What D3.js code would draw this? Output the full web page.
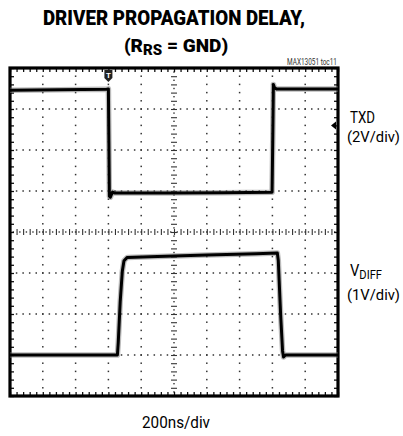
<!DOCTYPE html>
<html>
<head>
<meta charset="utf-8">
<script src="https://cdn.jsdelivr.net/npm/d3@7/dist/d3.min.js"></script>
<style>
  html, body { margin: 0; padding: 0; background: #fff; }
  svg { display: block; }
  .cond { font-family: Roboto, "Liberation Sans", sans-serif; }
</style>
</head>
<body>
<script>
// ---- data ----
const timeDivs = 10;            // horizontal divisions (200ns/div)
const voltDivs = 8;             // vertical divisions
const nsPerDiv = 200;
// TXD trace (time ns, volts) — 2V/div, zero reference at +0.95 div
const txdTime  = [0, 300, 590, 600, 603, 606, 612, 625, 640, 1000, 1300, 1598, 1602, 1606, 1612, 1625, 1800, 2000];
const txdVolts = [5.02, 5.04, 5.06, 5.08, 2.5, -0.15, -0.2, 0.05, 0.0, 0.0, 0.02, 0.04, 2.5, 5.3, 5.15, 5.08, 5.08, 5.08];
const txdScale = 2, txdZeroDiv = 0.95;
// VDIFF trace — 1V/div, zero reference at -3 div
const vdiffTime  = [0, 300, 655, 660, 672, 685, 695, 715, 900, 1200, 1500, 1630, 1636, 1650, 1662, 1668, 1680, 2000];
const vdiffVolts = [0.0, 0.0, 0.0, 0.3, 1.3, 2.05, 2.3, 2.38, 2.4, 2.44, 2.47, 2.49, 2.3, 1.0, 0.1, -0.05, 0.0, 0.0];
const vdiffScale = 1, vdiffZeroDiv = -3;
const titleLines = ["DRIVER PROPAGATION DELAY,"];
const traceLabels = [["TXD", "", "(2V/div)"], ["V", "DIFF", "(1V/div)"]];
const xLabel = "200ns/div";
const noteText = "MAX13051 toc11";

// ---- layout ----
const W = 403, H = 436;
const svg = d3.select("body").append("svg").attr("width", W).attr("height", H);

const x = d3.scaleLinear().domain([0, timeDivs * nsPerDiv]).range([10, 338]);
const y = d3.scaleLinear().domain([-voltDivs / 2, voltDivs / 2]).range([396, 68]);
const xd = d => x(d * nsPerDiv);

// dotted grid
const g = svg.append("g");
const minorX = d3.range(0, timeDivs * 5 + 1).map(i => i / 5);
const minorY = d3.range(-voltDivs * 5 / 2, voltDivs * 5 / 2 + 1).map(i => i / 5);
[-3, -2, -1, 1, 2, 3].forEach(v => {
  g.selectAll(null).data(minorX).join("rect")
    .attr("x", d => xd(d) - 0.75).attr("y", y(v) - 0.75).attr("width", 1.5).attr("height", 1.5).attr("fill", "#333");
});
[1, 2, 3, 4, 6, 7, 8, 9].forEach(v => {
  g.selectAll(null).data(minorY).join("rect")
    .attr("x", xd(v) - 0.75).attr("y", d => y(d) - 0.75).attr("width", 1.5).attr("height", 1.5).attr("fill", "#333");
});

// center axes with ticks on both sides
const cx = xd(timeDivs / 2), cy = y(0);
const tvX = minorX.map(d => d * nsPerDiv);
[3, -3].forEach(s => {
  svg.append("g").attr("transform", `translate(0,${cy})`)
    .call((s > 0 ? d3.axisBottom(x) : d3.axisTop(x)).tickValues(tvX).tickSize(Math.abs(s)).tickFormat(""))
    .call(a => a.select(".domain").remove())
    .selectAll("line").attr("stroke", "#333").attr("stroke-width", 1.1);
  svg.append("g").attr("transform", `translate(${cx},0)`)
    .call((s > 0 ? d3.axisRight(y) : d3.axisLeft(y)).tickValues(minorY).tickSize(Math.abs(s)).tickFormat(""))
    .call(a => a.select(".domain").remove())
    .selectAll("line").attr("stroke", "#333").attr("stroke-width", 1.1);
});
// center line dots
g.selectAll(null).data(minorX.map(d => d + 0.1).filter(d => d < timeDivs)).join("rect")
  .attr("x", d => xd(d) - 0.7).attr("y", cy - 0.7).attr("width", 1.4).attr("height", 1.4).attr("fill", "#333");
g.selectAll(null).data(minorY.map(d => d + 0.1).filter(d => d < voltDivs / 2)).join("rect")
  .attr("x", cx - 0.7).attr("y", d => y(d) - 0.7).attr("width", 1.4).attr("height", 1.4).attr("fill", "#333");

// border ticks (inward)
const bt = [
  [d3.axisBottom(x).tickValues(tvX), `translate(0,${y(4)})`],
  [d3.axisTop(x).tickValues(tvX), `translate(0,${y(-4)})`],
  [d3.axisRight(y).tickValues(minorY), `translate(${x(0)},0)`],
  [d3.axisLeft(y).tickValues(minorY), `translate(${x(2000)},0)`]
];
bt.forEach(([ax, tr]) => {
  svg.append("g").attr("transform", tr).call(ax.tickSize(4).tickFormat(""))
    .call(a => a.select(".domain").remove())
    .selectAll("line").attr("stroke", "#111").attr("stroke-width", 1.3);
});

// frame
svg.append("rect").attr("x", x(0)).attr("y", y(4)).attr("width", x(2000) - x(0)).attr("height", y(-4) - y(4))
  .attr("fill", "none").attr("stroke", "#000").attr("stroke-width", 3.2);

// traces
const line = (zero, scale) => d3.line().x(d => x(d[0])).y(d => y(zero + d[1] / scale));
const txd = txdTime.map((t, i) => [t, txdVolts[i]]);
const vdiff = vdiffTime.map((t, i) => [t, vdiffVolts[i]]);
[[txd, txdZeroDiv, txdScale], [vdiff, vdiffZeroDiv, vdiffScale]].forEach(([data, z, s]) => {
  svg.append("path").datum(data).attr("d", line(z, s)).attr("fill", "none")
    .attr("stroke", "#777").attr("stroke-width", 5.5).attr("stroke-opacity", 0.5).attr("stroke-linejoin", "round");
  svg.append("path").datum(data).attr("d", line(z, s)).attr("fill", "none")
    .attr("stroke", "#000").attr("stroke-width", 3).attr("stroke-linejoin", "round");
});

// trigger marker
const tx = x(600), ty = y(4) + 2;
svg.append("path").attr("d", `M${tx - 4},${ty} L${tx + 4},${ty} L${tx + 4},${ty + 8} L${tx},${ty + 12} L${tx - 4},${ty + 8} Z`)
  .attr("fill", "#222");
svg.append("text").attr("x", tx).attr("y", ty + 8).attr("text-anchor", "middle").attr("font-size", 8)
  .attr("font-family", "Liberation Sans").attr("font-weight", "bold").attr("fill", "#fff").text("T");
// TXD ground-level marker on right edge
const gy = y(2.6), gx = x(2000) - 2;
svg.append("path").attr("d", `M${gx},${gy - 4} L${gx - 5},${gy} L${gx},${gy + 4} Z`).attr("fill", "#000");

// title
svg.append("text").attr("class", "cond").attr("x", 174).attr("y", 25).attr("text-anchor", "middle")
  .attr("font-size", 21).attr("font-weight", 900).attr("textLength", 262).attr("lengthAdjust", "spacingAndGlyphs")
  .text(titleLines[0]);
const t2 = svg.append("text").attr("class", "cond").attr("x", 176).attr("y", 52).attr("text-anchor", "middle")
  .attr("font-size", 19).attr("font-weight", 900);
t2.append("tspan").text("(R");
t2.append("tspan").attr("dy", 3).attr("font-size", 15).text("RS");
t2.append("tspan").attr("dy", -3).text(" = GND)");

svg.append("text").attr("class", "cond").attr("x", 337).attr("y", 65).attr("text-anchor", "end")
  .attr("font-size", 9.5).attr("fill", "#333").attr("textLength", 50).attr("lengthAdjust", "spacingAndGlyphs").text(noteText);

// trace labels
const labY = [[123, 142], [276, 300]];
const labW = [[25, 53], [32, 53]];
traceLabels.forEach((lab, i) => {
  const t = svg.append("text").attr("class", "cond").attr("x", 350).attr("y", labY[i][0]).attr("font-size", 16.5)
    .attr("textLength", labW[i][0]).attr("lengthAdjust", "spacingAndGlyphs");
  t.append("tspan").text(lab[0]);
  if (lab[1]) t.append("tspan").attr("dy", 3).attr("font-size", 12.5).text(lab[1]);
  svg.append("text").attr("class", "cond").attr("x", 347).attr("y", labY[i][1]).attr("font-size", 15.5)
    .attr("textLength", labW[i][1]).attr("lengthAdjust", "spacingAndGlyphs").text(lab[2]);
});

svg.append("text").attr("class", "cond").attr("x", 176).attr("y", 428).attr("text-anchor", "middle")
  .attr("font-size", 16).attr("textLength", 68).attr("lengthAdjust", "spacingAndGlyphs").text(xLabel);
</script>
</body>
</html>
